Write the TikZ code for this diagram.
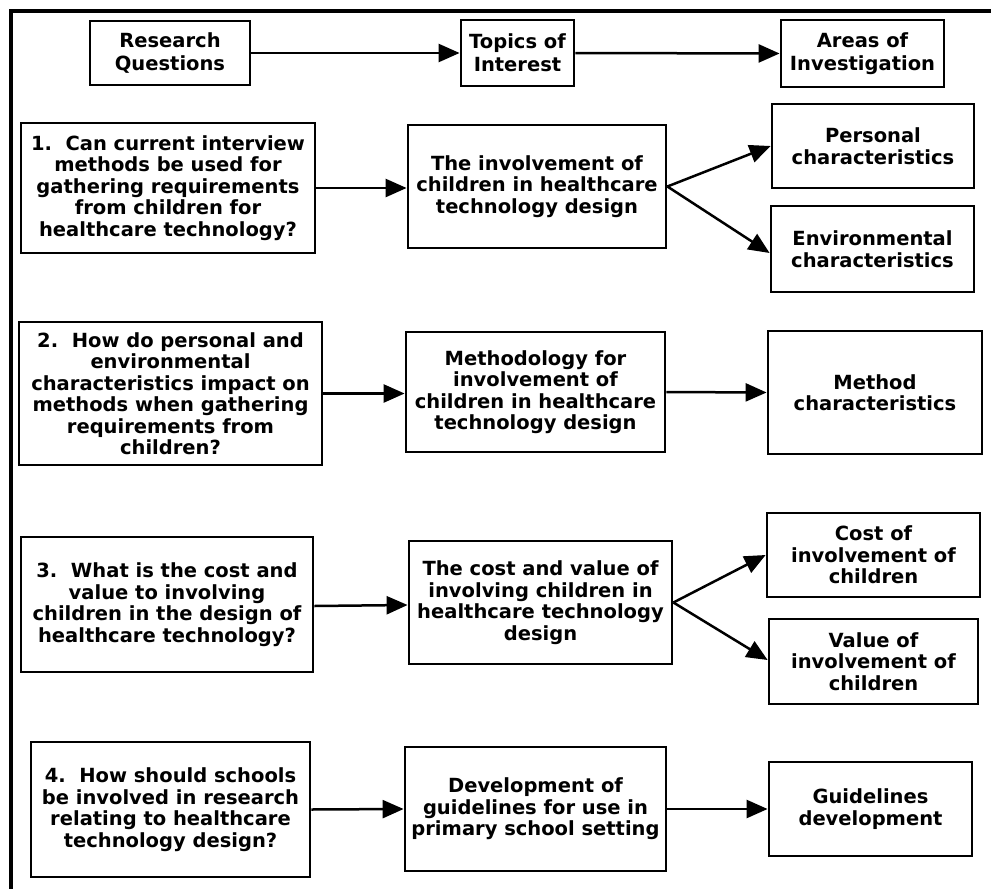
\documentclass[tikz,border=0pt]{standalone}
\usepackage{fontspec}
\setmainfont{DejaVu Sans}
\usetikzlibrary{arrows.meta}
\begin{document}
\begin{tikzpicture}[x=1pt,y=-1pt,
  box/.style={draw,line width=2.8pt,align=center,inner sep=0pt,
    font=\fontsize{19.5}{21.5}\selectfont\bfseries},
  head/.style={box,font=\fontsize{19.5}{23}\selectfont\bfseries},
  link/.style={line width=2.5pt,-{Triangle[length=21pt,width=18pt]}}]
\useasboundingbox (0,0) rectangle (991,889);
% frame along the top and left sides
\draw[line width=3.2pt] (11,889) -- (11,11) -- (991,11);

% column headings
\node[head,minimum width=160,minimum height=64] (rq) at (170,53) {Research\\Questions};
\node[head,minimum width=113,minimum height=66] (ti) at (517.5,53) {Topics of\\Interest};
\node[head,minimum width=163,minimum height=67] (ai) at (862.5,53.5) {Areas of\\Investigation};

% row 1
\node[box,minimum width=294,minimum height=130] (q1) at (168,188)
  {1.\ \ Can current interview\\methods be used for\\gathering requirements\\from children for\\healthcare technology?};
\node[box,minimum width=258,minimum height=123] (t1) at (537,186.5)
  {The involvement of\\children in healthcare\\technology design};
\node[box,minimum width=202,minimum height=84] (a1) at (873,146) {Personal\\characteristics};
\node[box,minimum width=203,minimum height=86] (a2) at (872.5,249) {Environmental\\characteristics};

% row 2
\node[box,minimum width=303,minimum height=143] (q2) at (170.5,393.5)
  {2.\ \ How do personal and\\environmental\\characteristics impact on\\methods when gathering\\requirements from\\children?};
\node[box,minimum width=259,minimum height=120] (t2) at (535.5,392)
  {Methodology for\\involvement of\\children in healthcare\\technology design};
\node[box,minimum width=214,minimum height=123] (a3) at (875,392.5) {Method\\characteristics};

% row 3
\node[box,minimum width=292,minimum height=135] (q3) at (167,604.5)
  {3.\ \ What is the cost and\\value to involving\\children in the design of\\healthcare technology?};
\node[box,minimum width=263,minimum height=123] (t3) at (540.5,602.5)
  {The cost and value of\\involving children in\\healthcare technology\\design};
\node[box,minimum width=213,minimum height=84] (a4) at (873.5,555) {Cost of\\involvement of\\children};
\node[box,minimum width=209,minimum height=85] (a5) at (873.5,661.5) {Value of\\involvement of\\children};

% row 4
\node[box,minimum width=279,minimum height=135] (q4) at (170.5,809.5)
  {4.\ \ How should schools\\be involved in research\\relating to healthcare\\technology design?};
\node[box,minimum width=261,minimum height=124] (t4) at (535.5,809)
  {Development of\\guidelines for use in\\primary school setting};
\node[box,minimum width=203,minimum height=94] (a6) at (870.5,809) {Guidelines\\development};

% connectors
\draw[link] (rq.east) -- (ti.west);
\draw[link] (ti.east) -- (ai.west);
\draw[link] (q1.east) -- (q1.east -| t1.west);
\draw[link] (t1.east) -- (a1.west);
\draw[link] (t1.east) -- ([yshift=-4]a2.west);
\draw[link] (q2.east) -- (q2.east -| t2.west);
\draw[link] (t2.east) -- (a3.west);
\draw[link] ([yshift=-1.5]q3.east) -- ([yshift=-2.5]t3.west);
\draw[link] (t3.east) -- (a4.west);
\draw[link] (t3.east) -- ([yshift=1.5]a5.west);
\draw[link] (q4.east) -- (t4.west);
\draw[link] (t4.east) -- (a6.west);
\end{tikzpicture}
\end{document}
